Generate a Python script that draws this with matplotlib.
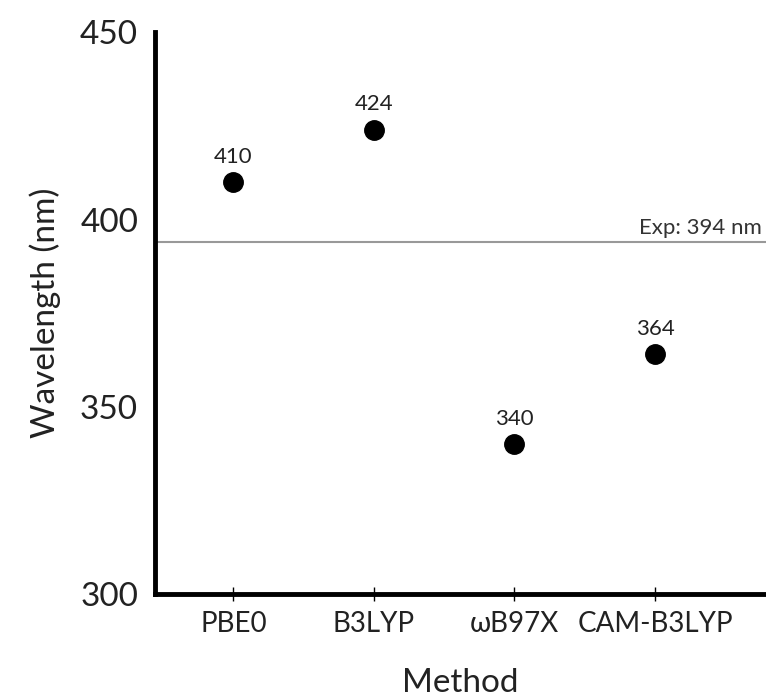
import matplotlib
matplotlib.use("Agg")
import matplotlib.pyplot as plt

methods = ["PBE0", "B3LYP", "ωB97X", "CAM-B3LYP"]
wavelengths = [410, 424, 340, 364]
exp_value = 394
exp_label = "Exp: 394 nm"
yticks = [300, 350, 400, 450]

plt.rcParams['font.family'] = ['Lato', 'DejaVu Sans']

fig = plt.figure(figsize=(7.66, 7.0), dpi=100)
ax = fig.add_axes([0.202, 0.151, 0.798, 0.803])

x = list(range(len(methods)))
ax.plot(x, wavelengths, 'o', color='black', markersize=14, linestyle='none', zorder=3)
for xi, v in zip(x, wavelengths):
    ax.annotate(str(v), (xi, v), xytext=(0, 11), textcoords='offset points',
                ha='center', va='bottom', fontsize=16, color='#222222')

ax.axhline(exp_value, color='#999999', linewidth=1.5, zorder=1)
ax.annotate(exp_label, (1.0, exp_value), xycoords=('axes fraction', 'data'),
            xytext=(-3, 3), textcoords='offset points', ha='right', va='bottom',
            fontsize=16, color='#333333')

ax.set_xlim(-0.56, 3.79)
ax.set_ylim(300, 450)
ax.set_xticks(x)
ax.set_xticklabels(methods, fontsize=20, color='#222222')
ax.set_yticks(yticks)
ax.set_yticklabels([str(t) for t in yticks], fontsize=24, color='#222222')
ax.tick_params(axis='y', length=0, pad=12)
ax.tick_params(axis='x', direction='inout', length=10, width=1, pad=7)

for s in ['top', 'right']:
    ax.spines[s].set_visible(False)
for s in ['left', 'bottom']:
    ax.spines[s].set_linewidth(3.5)
    ax.spines[s].set_color('black')

ax.set_xlabel("Method", fontsize=24, color='#222222', labelpad=22)
ax.set_ylabel("Wavelength (nm)", fontsize=24, color='#222222', labelpad=14)

fig.savefig("out.png", dpi=100, facecolor='white')
